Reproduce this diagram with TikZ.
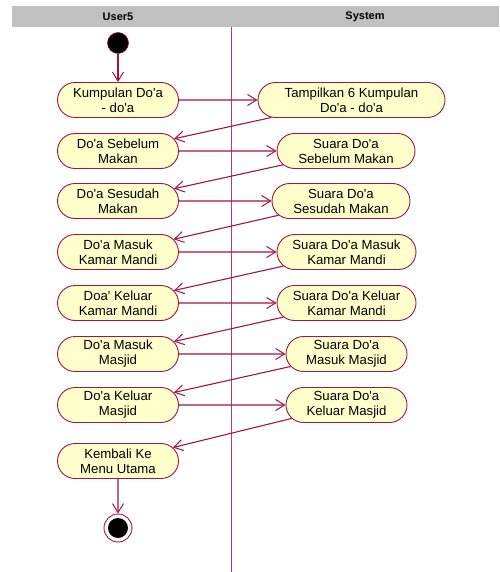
\documentclass[tikz,border=0pt]{standalone}
\usepackage{fontspec}
\newfontfamily\uifont{Liberation Sans}
\usetikzlibrary{shapes.misc,arrows.meta}
\definecolor{crim}{RGB}{160,20,70}
\definecolor{lane}{RGB}{176,64,112}
\definecolor{actfill}{RGB}{255,255,204}
\definecolor{hdr}{RGB}{192,192,192}
\tikzset{
  act/.style={rounded rectangle, draw=crim, fill=actfill, line width=0.9pt,
    minimum height=35pt, inner sep=0pt, align=center,
    font=\uifont\fontsize{13.2}{15}\selectfont},
  flow/.style={draw=crim, line width=1.1pt, -{Straight Barb[length=9pt,width=11pt,line width=1pt]}},
  lanetitle/.style={font=\uifont\fontsize{11}{13}\selectfont\bfseries}
}
\begin{document}
\begin{tikzpicture}[x=1pt,y=-1pt]
\useasboundingbox (0,0) rectangle (499,572);
\fill[white] (0,0) rectangle (499,572);
% header
\fill[hdr] (12,6) rectangle (499,27);
\node[lanetitle] (hu) at (118,16.5) {User5};
\node[lanetitle] (hs) at (365,16.5) {System};
\draw[lane, line width=0.9pt] (231,27) -- (231,572);
% start / end
\node[circle, fill=black, draw=crim, line width=0.6pt, minimum size=21pt, inner sep=0pt] (start) at (118,43) {};
\node[circle, fill=white, draw=crim, line width=0.9pt, minimum size=28pt, inner sep=0pt] (end) at (118,528) {};
\node[circle, fill=black, minimum size=20pt, inner sep=0pt] (endin) at (118,528) {};
% left activities
\node[act, minimum width=121pt] (l1) at (118,100) {Kumpulan Do'a\\- do'a};
\node[act, minimum width=121pt] (l2) at (118,151) {Do'a Sebelum\\Makan};
\node[act, minimum width=121pt] (l3) at (118,201) {Do'a Sesudah\\Makan};
\node[act, minimum width=121pt] (l4) at (118,252) {Do'a Masuk\\Kamar Mandi};
\node[act, minimum width=121pt] (l5) at (118,303) {Doa' Keluar\\Kamar Mandi};
\node[act, minimum width=121pt] (l6) at (118,354) {Do'a Masuk\\Masjid};
\node[act, minimum width=121pt] (l7) at (118,405) {Do'a Keluar\\Masjid};
\node[act, minimum width=121pt] (l8) at (118,461) {Kembali Ke\\Menu Utama};
% right activities
\node[act, minimum width=187pt] (r1) at (351.5,100) {Tampilkan 6 Kumpulan\\Do'a - do'a};
\node[act, minimum width=138pt] (r2) at (346,151) {Suara Do'a\\Sebelum Makan};
\node[act, minimum width=138pt] (r3) at (341,201) {Suara Do'a\\Sesudah Makan};
\node[act, minimum width=139pt] (r4) at (346.5,252) {Suara Do'a Masuk\\Kamar Mandi};
\node[act, minimum width=139pt] (r5) at (346.5,303) {Suara Do'a Keluar\\Kamar Mandi};
\node[act, minimum width=121pt] (r6) at (346.5,354) {Suara Do'a\\Masuk Masjid};
\node[act, minimum width=121pt] (r7) at (346.5,405) {Suara Do'a\\Keluar Masjid};
% flows
\draw[flow] (start) -- (l1);
\draw[flow] (l1) -- (r1);
\draw[flow] (r1) -- (l2);
\draw[flow] (l2) -- (r2);
\draw[flow] (r2) -- (l3);
\draw[flow] (l3) -- (r3);
\draw[flow] (r3) -- (l4);
\draw[flow] (l4) -- (r4);
\draw[flow] (r4) -- (l5);
\draw[flow] (l5) -- (r5);
\draw[flow] (r5) -- (l6);
\draw[flow] (l6) -- (r6);
\draw[flow] (r6) -- (l7);
\draw[flow] (l7) -- (r7);
\draw[flow] (r7) -- (l8);
\draw[flow] (l8) -- (end);
\end{tikzpicture}
\end{document}
